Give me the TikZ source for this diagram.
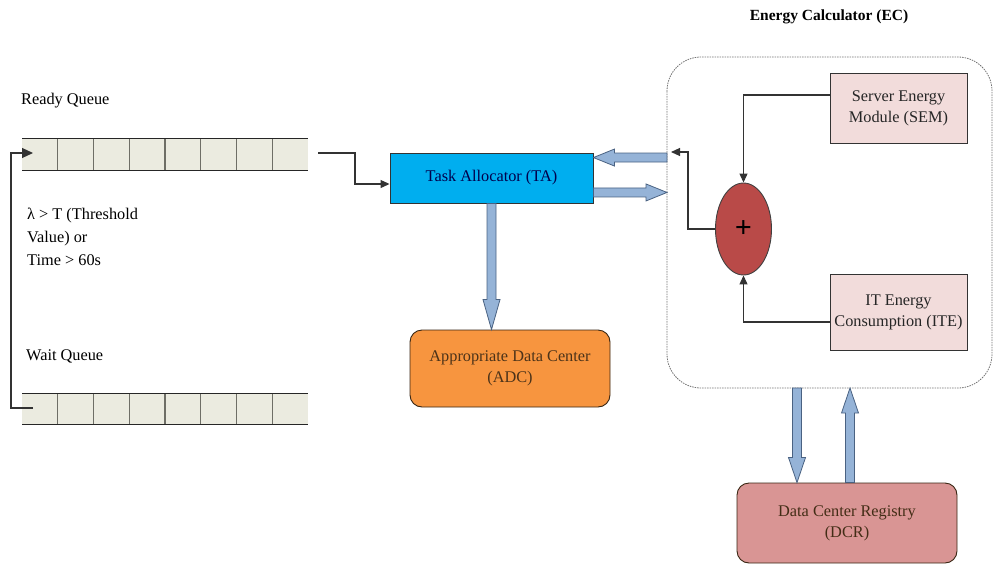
\documentclass[tikz,border=0pt]{standalone}
\usepackage{fontspec}
\setmainfont{Liberation Serif}
\newfontfamily\tnr{Liberation Serif}
\usetikzlibrary{calc,arrows.meta,shapes.geometric}
\definecolor{qfill}{HTML}{EBEBE0}
\definecolor{qdiv}{HTML}{6E6E66}
\definecolor{tafill}{HTML}{00AEEF}
\definecolor{adcfill}{HTML}{F7953F}
\definecolor{pinkfill}{HTML}{F2DCDB}
\definecolor{redfill}{HTML}{B94A48}
\definecolor{dcrfill}{HTML}{D99594}
\definecolor{fatfill}{HTML}{95B3D7}
\definecolor{fatline}{HTML}{4A6282}
\definecolor{lineclr}{HTML}{333333}
\tikzset{
  txt/.style={font=\tnr\fontsize{16.3}{21}\selectfont, align=center, inner sep=0pt},
  sqbox/.style={draw=black!80, line width=0.9pt, txt},
  rbox/.style={draw=black!70!brown, line width=0.9pt, rounded corners=12pt, txt},
  conn/.style={draw=lineclr, line width=1.1pt, -{Triangle[length=9pt,width=8pt]}},
  fatarrow/.style={fill=fatfill, draw=fatline, line width=0.8pt, line join=miter},
}
% fat block arrow from #2 to #3, head length #1
\newcommand\fatarr[3][20pt]{%
  \coordinate (fahb) at ($(#3)!#1!(#2)$);
  \path[fatarrow] ($(#2)!4.5pt!90:(#3)$) -- ($(fahb)!4.5pt!90:(#3)$)
     -- ($(fahb)!8.5pt!90:(#3)$) -- (#3) -- ($(fahb)!8.5pt!-90:(#3)$)
     -- ($(fahb)!4.5pt!-90:(#3)$) -- ($(#2)!4.5pt!-90:(#3)$) -- cycle;}
\begin{document}
\begin{tikzpicture}[x=1pt,y=-1pt]
\useasboundingbox (0,0) rectangle (994,563);

% ---------- queues ----------
\foreach \nm/\yt/\yb in {rq/138/170, wq/393/424}{
  \fill[qfill] (22,\yt) rectangle (308,\yb);
  \foreach \i in {1,...,7}{
    \draw[qdiv, line width=1.3pt] ({22+\i*35.75},\yt) -- ({22+\i*35.75},\yb);
  }
  \draw[black!85, line width=1pt] (22,\yt) -- (308,\yt);
  \draw[black!85, line width=1pt] (22,\yb) -- (308,\yb);
  \coordinate (\nm) at (165,{(\yt+\yb)/2});
}
\node[txt, anchor=west] (rqlabel) at (21,101) {Ready Queue};
\node[txt, anchor=west] (wqlabel) at (26,356) {Wait Queue};
\node[txt, anchor=north west, align=left, font=\tnr\fontsize{16.3}{23}\selectfont] (cond) at (27,208)
  {λ > T (Threshold\\Value) or\\Time > 60s};

% ---------- main boxes ----------
\node[sqbox, fill=tafill, minimum width=203pt, minimum height=50pt, text=blue!30!black] (ta) at (491.5,178) {Task Allocator (TA)};
\node[rbox, fill=adcfill, minimum width=200pt, minimum height=77pt, text=black!60!brown] (adc) at (510,368.5) {Appropriate Data Center\\(ADC)};

% Energy calculator container
\draw[black!55, dash pattern=on 1.5pt off 1pt, line width=0.8pt, rounded corners=34pt] (667,57) rectangle (992,388);
\coordinate (ecw) at (667,150);
\node[txt, font=\tnr\bfseries\fontsize{15.5}{18}\selectfont] (ectitle) at (829,17) {Energy Calculator (EC)};

\node[sqbox, fill=pinkfill, minimum width=137pt, minimum height=70pt, text=black!85] (sem) at (898.5,108) {Server Energy\\Module (SEM)};
\node[sqbox, fill=pinkfill, minimum width=137pt, minimum height=76pt, text=black!85] (ite) at (898.5,312) {IT Energy\\Consumption (ITE)};
\node[draw=black!75, line width=0.9pt, fill=redfill, ellipse, minimum width=56pt, minimum height=92pt, inner sep=0pt, font=\tnr\bfseries\fontsize{30}{30}\selectfont] (sum) at (743.5,229) {+};

\node[rbox, fill=dcrfill, minimum width=220pt, minimum height=80pt, text=black!65!brown] (dcr) at (847,523) {Data Center Registry\\(DCR)};

% ---------- thin connectors ----------
\coordinate (rqout) at (318,153);
\draw[conn] (rqout) -- (355,153) |- ([yshift=-6pt]ta.west);
\coordinate (wqin) at (33,408);
\coordinate (rqin) at (33,153);
\draw[conn, -{Triangle[length=11pt,width=10pt]}] (wqin) -- (11,408) |- (rqin);

\coordinate (ecin) at (671,152);
\draw[conn] ([yshift=13pt]sem.west) -| (sum.north);
\draw[conn] ([yshift=-10pt]ite.west) -| (sum.south);
\draw[conn] (sum.west) -- (688,229) |- (ecin);

% ---------- fat arrows ----------
\coordinate (taE1) at ([yshift=-5pt]ta.north east);
\coordinate (taE2) at ([yshift=11pt]ta.south east);
\coordinate (ec1) at (ecw |- taE1);
\coordinate (ec2) at (ecw |- taE2);
\coordinate (tas) at (ta.south);
\coordinate (adcn) at (ta.south |- adc.north);
\fatarr[21pt]{ec1}{taE1}
\fatarr[21pt]{taE2}{ec2}
\fatarr[30pt]{tas}{adcn}
\coordinate (dn1) at (797,388);
\coordinate (up1) at (850,388);
\coordinate (dn2) at (dn1 |- dcr.north);
\coordinate (up2) at (up1 |- dcr.north);
\fatarr[25pt]{dn1}{dn2}
\fatarr[25pt]{up2}{up1}
\end{tikzpicture}
\end{document}
